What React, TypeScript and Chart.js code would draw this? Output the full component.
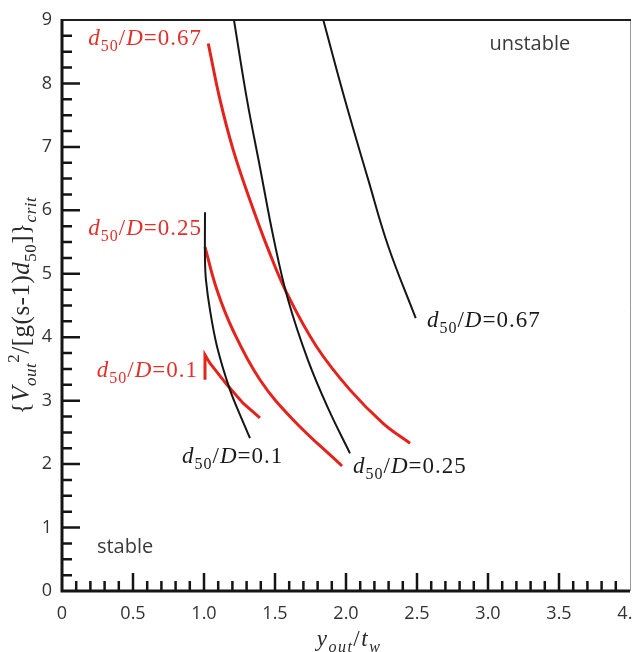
import { useEffect, useRef } from "react";
import { Chart, registerables } from "chart.js";

Chart.register(...registerables);

// ---- Data (x = y_out/t_w, y = {V_out^2/[g(s-1)d50]}_crit) ----
// Black curves
const black067X = [1.84, 1.993, 2.157, 2.298, 2.491];
const black067Y = [9.0, 7.74, 6.48, 5.43, 4.3];

const black025X = [1.211, 1.303, 1.394, 1.493, 1.592, 1.732, 1.88, 2.028];
const black025Y = [9.0, 7.74, 6.68, 5.53, 4.59, 3.64, 2.85, 2.17];

const black010X = [1.007, 1.007, 1.014, 1.042, 1.092, 1.183, 1.268, 1.324];
const black010Y = [5.97, 5.22, 4.9, 4.43, 3.85, 3.17, 2.7, 2.41];

// Red curves
const red067X = [1.03, 1.113, 1.206, 1.324, 1.453, 1.582, 1.793, 2.028, 2.263, 2.451];
const red067Y = [8.63, 7.74, 6.95, 6.16, 5.38, 4.7, 3.85, 3.17, 2.64, 2.33];

const red025X = [1.007, 1.092, 1.204, 1.394, 1.627, 1.972];
const red025Y = [5.42, 4.74, 4.11, 3.33, 2.7, 1.97];

const red010X = [1.007, 1.007, 1.042, 1.162, 1.275, 1.394];
const red010Y = [3.33, 3.72, 3.59, 3.25, 2.96, 2.73];

// Curve labels (d50/D values) and their anchor points in data units
const redLabelValues = ["0.67", "0.25", "0.1"];
const redLabelX = [0.986, 0.986, 0.958]; // right edge
const redLabelY = [8.61, 5.61, 3.37];

const blackLabelValues = ["0.1", "0.25", "0.67"];
const blackLabelX = [0.845, 2.05, 2.57]; // left edge
const blackLabelY = [2.02, 1.86, 4.16];

// Region labels
const regionTexts = ["unstable", "stable"];
const regionX = [3.01, 0.246];
const regionY = [8.53, 0.6];

// Axis ranges
const xMin = 0;
const xMax = 4;
const xStep = 0.5;
const yMin = 0;
const yMax = 9;
const yStep = 1;

const RED = "#e3231c";
const RED_TEXT = "#e2302a";
const BLACK = "#151515";
const SERIF = "'Liberation Serif', 'Times New Roman', serif";
const SANS = "'Open Sans', sans-serif";

type Seg = { t: string; it?: boolean; sub?: boolean; sup?: boolean };

function zip(xs: number[], ys: number[]) {
  return xs.map((x, i) => ({ x, y: ys[i] }));
}

function drawRich(
  ctx: CanvasRenderingContext2D,
  segs: Seg[],
  x: number,
  y: number,
  size: number,
  spacing: number,
  align: "left" | "right" | "center",
  color: string
) {
  const small = Math.round(size * 0.68);
  const fontFor = (s: Seg) =>
    `${s.it ? "italic " : ""}${s.sub || s.sup ? small : size}px ${SERIF}`;
  const anyCtx = ctx as any;
  const widths = segs.map((s) => {
    ctx.font = fontFor(s);
    anyCtx.letterSpacing = `${spacing}px`;
    return ctx.measureText(s.t).width;
  });
  const total = widths.reduce((a, b) => a + b, 0);
  let cx = align === "left" ? x : align === "right" ? x - total : x - total / 2;
  ctx.fillStyle = color;
  ctx.textAlign = "left";
  ctx.textBaseline = "alphabetic";
  segs.forEach((s, i) => {
    ctx.font = fontFor(s);
    anyCtx.letterSpacing = `${spacing}px`;
    const dy = s.sub ? size * 0.26 : s.sup ? -size * 0.42 : 0;
    ctx.fillText(s.t, cx, y + dy);
    cx += widths[i];
  });
  anyCtx.letterSpacing = "0px";
}

function labelSegs(v: string): Seg[] {
  return [
    { t: "d", it: true },
    { t: "50", sub: true },
    { t: "/" },
    { t: "D", it: true },
    { t: "=" + v },
  ];
}

const overlayPlugin = {
  id: "overlay",
  afterDraw(chart: any) {
    const ctx: CanvasRenderingContext2D = chart.ctx;
    const xs = chart.scales.x;
    const ys = chart.scales.y;
    const { left, right, top, bottom } = chart.chartArea;
    ctx.save();

    // frame
    ctx.strokeStyle = "#999";
    ctx.lineWidth = 1;
    ctx.beginPath();
    ctx.moveTo(right + 0.5, top);
    ctx.lineTo(right + 0.5, bottom);
    ctx.stroke();

    ctx.strokeStyle = "#1e1e1e";
    ctx.lineWidth = 2;
    ctx.beginPath();
    ctx.moveTo(left, top);
    ctx.lineTo(right + 1, top);
    ctx.stroke();

    ctx.strokeStyle = BLACK;
    ctx.lineWidth = 3;
    ctx.beginPath();
    ctx.moveTo(left, top - 1);
    ctx.lineTo(left, bottom + 1.5);
    ctx.moveTo(left - 1.5, bottom);
    ctx.lineTo(right, bottom);
    ctx.stroke();

    // inward tick marks
    ctx.lineWidth = 2.5;
    ctx.beginPath();
    for (let i = 1; i < 40; i++) {
      const px = xs.getPixelForValue(i / 10);
      const len = i % 5 === 0 ? 18 : 10;
      ctx.moveTo(px, bottom);
      ctx.lineTo(px, bottom - len);
    }
    for (let i = 1; i < 36; i++) {
      const py = ys.getPixelForValue(i / 4);
      const len = i % 4 === 0 ? 18 : 10;
      ctx.moveTo(left, py);
      ctx.lineTo(left + len, py);
    }
    ctx.stroke();

    // curve labels
    redLabelValues.forEach((v, i) => {
      drawRich(
        ctx,
        labelSegs(v),
        xs.getPixelForValue(redLabelX[i]),
        ys.getPixelForValue(redLabelY[i]),
        23,
        1,
        "right",
        RED_TEXT
      );
    });
    blackLabelValues.forEach((v, i) => {
      drawRich(
        ctx,
        labelSegs(v),
        xs.getPixelForValue(blackLabelX[i]),
        ys.getPixelForValue(blackLabelY[i]),
        23,
        1,
        "left",
        "#1a1a1a"
      );
    });

    // region labels
    ctx.font = `20px ${SANS}`;
    ctx.fillStyle = "#3a3a3a";
    ctx.textAlign = "left";
    ctx.textBaseline = "alphabetic";
    regionTexts.forEach((t, i) => {
      ctx.fillText(t, xs.getPixelForValue(regionX[i]), ys.getPixelForValue(regionY[i]));
    });

    // x-axis title
    drawRich(
      ctx,
      [
        { t: "y", it: true },
        { t: "out", it: true, sub: true },
        { t: "/" },
        { t: "t", it: true },
        { t: "w", it: true, sub: true },
      ],
      (left + right) / 2 + 3,
      646,
      23,
      1.5,
      "center",
      "#2a2a2a"
    );

    // y-axis title (rotated)
    ctx.translate(29, (top + bottom) / 2);
    ctx.rotate(-Math.PI / 2);
    drawRich(
      ctx,
      [
        { t: "{" },
        { t: "V", it: true },
        { t: "out", it: true, sub: true },
        { t: "2", sup: true },
        { t: "/[g(s-1)" },
        { t: "d", it: true },
        { t: "50", sub: true },
        { t: "]}" },
        { t: "crit", it: true, sub: true },
      ],
      0,
      0,
      25,
      0.5,
      "center",
      "#2a2a2a"
    );
    ctx.restore();
  },
};

export default function App() {
  const ref = useRef<HTMLCanvasElement>(null);

  useEffect(() => {
    const canvas = ref.current;
    if (!canvas) return;
    const line = (data: { x: number; y: number }[], color: string, width: number, tension: number) => ({
      data,
      showLine: true,
      borderColor: color,
      backgroundColor: color,
      borderWidth: width,
      pointRadius: 0,
      tension,
      fill: false,
    });

    const chart = new Chart(canvas, {
      type: "scatter",
      data: {
        datasets: [
          line(zip(black067X, black067Y), BLACK, 2, 0.4),
          line(zip(black025X, black025Y), BLACK, 2, 0.4),
          line(zip(black010X, black010Y), BLACK, 2, 0.35),
          line(zip(red067X, red067Y), RED, 3, 0.4),
          line(zip(red025X, red025Y), RED, 3, 0.4),
          line(zip(red010X, red010Y), RED, 3, 0),
        ] as any,
      },
      options: {
        animation: false,
        responsive: true,
        maintainAspectRatio: false,
        layout: { padding: { top: 20, right: 2, left: 0, bottom: 0 } },
        plugins: {
          legend: { display: false },
          tooltip: { enabled: false },
        },
        scales: {
          x: {
            type: "linear",
            min: xMin,
            max: xMax,
            grid: { display: false, drawTicks: false },
            border: { display: false },
            ticks: {
              stepSize: xStep,
              autoSkip: false,
              maxRotation: 0,
              padding: 12,
              color: "#333",
              font: { family: SANS, size: 18 },
            },
            afterFit: (s: any) => {
              s.height = 61;
              s.paddingLeft = 0;
              s.paddingRight = 0;
            },
          },
          y: {
            type: "linear",
            min: yMin,
            max: yMax,
            grid: { display: false, drawTicks: false },
            border: { display: false },
            ticks: {
              stepSize: yStep,
              autoSkip: false,
              padding: 10,
              color: "#333",
              font: { family: SANS, size: 18 },
            },
            afterFit: (s: any) => {
              s.width = 62;
              s.paddingTop = 0;
              s.paddingBottom = 0;
            },
          },
        },
      } as any,
      plugins: [overlayPlugin as any],
    });
    return () => chart.destroy();
  }, []);

  return (
    <div
      style={{
        position: "fixed",
        left: 0,
        top: 0,
        width: 632,
        height: 652,
        background: "#fff",
      }}
    >
      <canvas ref={ref} />
    </div>
  );
}
